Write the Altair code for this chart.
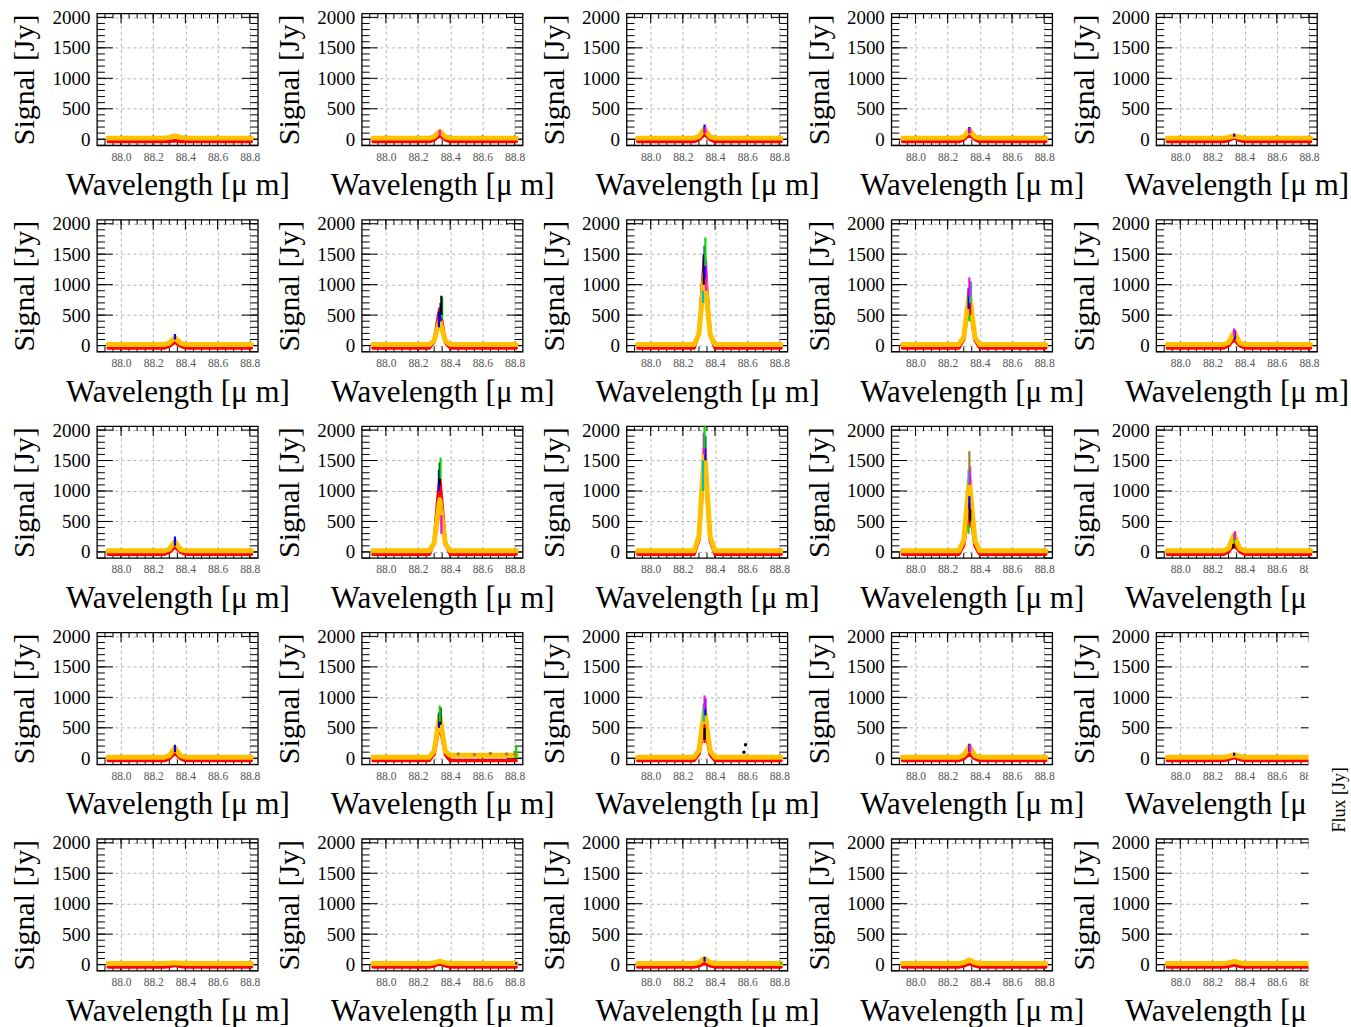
import altair as alt
import pandas as pd

# ---------------- data ----------------
WAVE = [87.92, 88.27, 88.30, 88.32, 88.335, 88.35, 88.37, 88.40, 88.81]

YELLOW = [
    [18, 18, 30, 45, 55, 45, 30, 18, 18],
    [18, 18, 40, 95, 130, 90, 40, 18, 18],
    [18, 18, 45, 120, 170, 110, 40, 18, 18],
    [18, 18, 40, 105, 150, 100, 40, 18, 18],
    [18, 18, 30, 45, 60, 45, 30, 18, 18],
    [18, 18, 40, 95, 130, 90, 40, 18, 18],
    [18, 18, 80, 270, 410, 260, 75, 18, 18],
    [18, 18, 190, 760, 1170, 720, 180, 18, 18],
    [18, 18, 140, 570, 870, 540, 130, 18, 18],
    [18, 18, 50, 150, 220, 140, 45, 18, 18],
    [18, 18, 45, 120, 170, 110, 40, 18, 18],
    [18, 18, 140, 560, 860, 530, 130, 18, 18],
    [18, 18, 260, 1100, 1680, 1050, 250, 18, 18],
    [18, 18, 190, 780, 1190, 740, 180, 18, 18],
    [18, 18, 60, 190, 280, 180, 55, 18, 18],
    [18, 18, 45, 120, 170, 110, 40, 18, 18],
    [18, 18, 120, 460, 700, 440, 110, 50, 50],
    [18, 18, 130, 530, 810, 500, 120, 18, 18],
    [18, 18, 50, 130, 190, 125, 45, 18, 18],
    [18, 18, 30, 45, 60, 45, 30, 18, 18],
    [18, 18, 24, 28, 30, 28, 24, 18, 18],
    [18, 18, 30, 45, 55, 45, 30, 18, 18],
    [18, 18, 35, 75, 100, 70, 35, 18, 18],
    [18, 18, 32, 55, 75, 55, 32, 18, 18],
    [18, 18, 28, 42, 50, 42, 28, 18, 18],
]

RED = [
    [-38, -38, -38, -30, -25, -30, -38, -38, -38],
    [-38, -38, -10, 30, 60, 30, -10, -38, -38],
    [-38, -38, -5, 45, 80, 45, -5, -38, -38],
    [-38, -38, -5, 40, 70, 40, -5, -38, -38],
    [-38, -38, -20, 5, 20, 5, -20, -38, -38],
    [-38, -38, -10, 30, 60, 30, -10, -38, -38],
    [-38, -38, 60, 380, 600, 360, 50, -38, -38],
    [-38, -38, 200, 950, 1450, 900, 180, -38, -38],
    [-38, -38, 100, 480, 750, 450, 90, -38, -38],
    [-38, -38, 0, 60, 100, 55, 0, -38, -38],
    [-38, -38, -5, 45, 80, 45, -5, -38, -38],
    [-38, -38, 160, 780, 1200, 740, 150, -38, -38],
    [-38, -38, 200, 980, 1500, 930, 190, -38, -38],
    [-38, -38, 110, 520, 800, 490, 100, -38, -38],
    [-38, -38, 5, 75, 120, 70, 5, -38, -38],
    [-38, -38, -5, 45, 80, 45, -5, -38, -38],
    [-38, -38, 70, 360, 550, 340, 60, -38, -38],
    [-38, -38, 70, 360, 560, 340, 60, -38, -38],
    [-38, -38, -5, 40, 70, 40, -5, -38, -38],
    [-38, -38, -20, 0, 10, 0, -20, -38, -38],
    [-38, -38, -30, -20, -10, -20, -30, -38, -38],
    [-38, -38, -20, 0, 10, 0, -20, -38, -38],
    [-38, -38, -20, 5, 20, 5, -20, -38, -38],
    [-38, -38, -20, 0, 15, 0, -20, -38, -38],
    [-38, -38, -30, -15, -5, -15, -30, -38, -38],
]

# (series, wavelength, low, high) for the scattered detector spikes
SPIKES = [
    [],
    [("magenta", 88.335, 60, 150)],
    [("blue", 88.335, 100, 240), ("magenta", 88.34, 100, 200)],
    [("blue", 88.335, 100, 200), ("magenta", 88.34, 100, 180)],
    [("blue", 88.335, 40, 90)],
    [("blue", 88.335, 100, 190)],
    [("blue", 88.33, 300, 560), ("blue", 88.34, 400, 700), ("green", 88.35, 450, 790), ("black", 88.345, 500, 816)],
    [("cyan", 88.325, 700, 900), ("magenta", 88.345, 900, 1400), ("black", 88.33, 1000, 1500), ("blue", 88.335, 1100, 1640), ("green", 88.34, 1300, 1774)],
    [("red", 88.34, 500, 800), ("green", 88.335, 400, 500), ("blue", 88.33, 600, 950), ("gray", 88.345, 800, 1050), ("cyan", 88.34, 700, 1036), ("magenta", 88.335, 800, 1118)],
    [("blue", 88.34, 100, 250), ("magenta", 88.335, 150, 280)],
    [("blue", 88.335, 100, 254)],
    [("magenta", 88.345, 300, 600), ("blue", 88.33, 1000, 1350), ("black", 88.335, 1100, 1467), ("green", 88.34, 1200, 1544)],
    [("cyan", 88.325, 1000, 1500), ("blue", 88.34, 1500, 1900), ("magenta", 88.33, 1600, 1957), ("green", 88.335, 1700, 2062)],
    [("red", 88.335, 400, 800), ("green", 88.33, 300, 450), ("black", 88.34, 500, 700), ("blue", 88.335, 700, 915), ("cyan", 88.33, 1100, 1350), ("magenta", 88.34, 1100, 1407), ("olive", 88.335, 1300, 1653)],
    [("black", 88.33, 50, 130), ("green", 88.335, 150, 300), ("magenta", 88.34, 200, 341)],
    [("blue", 88.335, 100, 220)],
    [("blue", 88.33, 500, 750), ("black", 88.34, 550, 830), ("green", 88.335, 600, 866), ("green", 88.81, 0, 210), ("olive", 88.80, 40, 120)],
    [("red", 88.335, 250, 560), ("black", 88.335, 300, 500), ("cyan", 88.33, 600, 900), ("blue", 88.34, 700, 975), ("magenta", 88.335, 800, 1030)],
    [("blue", 88.335, 100, 240), ("magenta", 88.34, 100, 220)],
    [("blue", 88.335, 40, 90)],
    [],
    [("blue", 88.81, 0, 40)],
    [("blue", 88.335, 50, 125), ("green", 88.81, 0, 40)],
    [],
    [],
]

# isolated points (panel index, series, wavelength, value)
DOTS = [
    (16, "olive", 88.45, 70), (16, "olive", 88.55, 60), (16, "olive", 88.65, 80), (16, "olive", 88.75, 70),
    (17, "black", 88.59, 221), (17, "black", 88.58, 100),
]

SERIES = ["blue", "green", "black", "magenta", "cyan", "olive", "gray", "red"]
SERIES_COLORS = ["#0000ff", "#00dd00", "#000000", "#ff00ff", "#00c0c0", "#a08030", "#808080", "#ff0000"]

X_LABELS = [88.0, 88.2, 88.4, 88.6, 88.8]
X_MINOR = [87.90, 87.95, 88.00, 88.05, 88.10, 88.15, 88.20, 88.25, 88.30, 88.35,
           88.40, 88.45, 88.50, 88.55, 88.60, 88.65, 88.70, 88.75, 88.80]
Y_LABELS = [0, 500, 1000, 1500, 2000]
Y_MINOR = [-100, 0, 100, 200, 300, 400, 500, 600, 700, 800, 900, 1000,
           1100, 1200, 1300, 1400, 1500, 1600, 1700, 1800, 1900, 2000]

# ---------------- styling ----------------
FONT = "Liberation Serif"
W, H = 161, 132
XDOM = [87.85, 88.85]
YDOM = [-100, 2065]

XAXIS = alt.Axis(values=X_LABELS, format=".1f", title="Wavelength [\u03bc m]", grid=True, ticks=False,
                 domain=False, labelFont=FONT, labelFontSize=11.5, labelColor="#555555",
                 labelPadding=6, titleFont=FONT, titleFontSize=31, titleFontWeight="normal",
                 titlePadding=8, titleColor="black", gridDash=[3, 3], gridColor="#a0a0a0",
                 gridWidth=0.8, labelFlush=False, labelOverlap=False)
YAXIS = alt.Axis(values=Y_LABELS, format="d", title="Signal [Jy]", grid=True, ticks=False, domain=False,
                 labelFont=FONT, labelFontSize=19, labelColor="black", labelPadding=7,
                 titleFont=FONT, titleFontSize=30, titleFontWeight="normal", titlePadding=12,
                 titleColor="black", gridDash=[3, 3], gridColor="#a0a0a0", gridWidth=0.8,
                 labelFlush=False, labelOverlap=False)


def xe(f):
    return alt.X(f, type="quantitative", scale=alt.Scale(domain=XDOM, nice=False, zero=False), axis=XAXIS)


def ye(f):
    return alt.Y(f, type="quantitative", scale=alt.Scale(domain=YDOM, nice=False, zero=False), axis=YAXIS)


def xticks(vals, y0, y1):
    return alt.Chart(pd.DataFrame({"w": vals})).mark_rule(color="black", strokeWidth=1).encode(
        x=xe("w"), y=alt.value(y0), y2=alt.value(y1))


def yticks(vals, x0, x1):
    return alt.Chart(pd.DataFrame({"v": vals})).mark_rule(color="black", strokeWidth=1).encode(
        y=ye("v"), x=alt.value(x0), x2=alt.value(x1))


color_scale = alt.Scale(domain=SERIES, range=SERIES_COLORS)

panels = []
for i in range(25):
    prof = pd.DataFrame({"w": WAVE, "yel": YELLOW[i], "red": RED[i]})
    layers = [
        xticks(X_MINOR, 0, 5), xticks(X_LABELS, 0, 10),
        xticks(X_MINOR, H, H - 5), xticks(X_LABELS, H, H - 10),
        yticks(Y_MINOR, 0, 8), yticks(Y_LABELS, 0, 16),
        yticks(Y_MINOR, W, W - 8), yticks(Y_LABELS, W, W - 16),
        alt.Chart(prof).mark_line(color="#ff0000", strokeWidth=3.5, strokeJoin="round",
                                  strokeCap="round", clip=True).encode(x=xe("w"), y=ye("red")),
        alt.Chart(prof).mark_line(color="#ffc000", strokeWidth=5, strokeJoin="round",
                                  strokeCap="round", clip=True).encode(x=xe("w"), y=ye("yel")),
    ]
    if SPIKES[i]:
        sp = pd.DataFrame(SPIKES[i], columns=["s", "w", "lo", "hi"])
        layers.append(alt.Chart(sp).mark_rule(strokeWidth=2.2, clip=True).encode(
            x=xe("w"), y=ye("lo"), y2="hi",
            color=alt.Color("s:N", scale=color_scale, legend=None)))
    dots = [d for d in DOTS if d[0] == i]
    if dots:
        dd = pd.DataFrame([d[1:] for d in dots], columns=["s", "w", "v"])
        layers.append(alt.Chart(dd).mark_circle(size=12, opacity=1, clip=True).encode(
            x=xe("w"), y=ye("v"), color=alt.Color("s:N", scale=color_scale, legend=None)))
    # white mask over the cut-off right edge of the lower right panels
    if i == 14:
        layers.append(alt.Chart(pd.DataFrame({"a": [0]})).mark_rect(color="white").encode(
            x=alt.value(152.5), x2=alt.value(194), y=alt.value(136), y2=alt.value(300)))
    if i in (19, 24):
        layers.append(alt.Chart(pd.DataFrame({"a": [0]})).mark_rect(color="white").encode(
            x=alt.value(152.5), x2=alt.value(194), y=alt.value(-70), y2=alt.value(300)))
    if i == 24:
        layers.append(alt.Chart(pd.DataFrame({"a": [0]})).mark_text(
            text="Flux [Jy]", angle=270, font=FONT, fontSize=18, color="black").encode(
            x=alt.value(184), y=alt.value(-39)))
    panels.append(alt.layer(*layers).properties(width=W, height=H))

chart = alt.concat(*panels, columns=5, spacing={"row": 74.5, "column": 104}, bounds="flush").configure(
    padding={"left": 9, "top": 7, "right": 0, "bottom": 0}
).configure_view(stroke="black", strokeWidth=1.3)

chart.save("out.html", embed_options={"renderer": "svg", "actions": False})
